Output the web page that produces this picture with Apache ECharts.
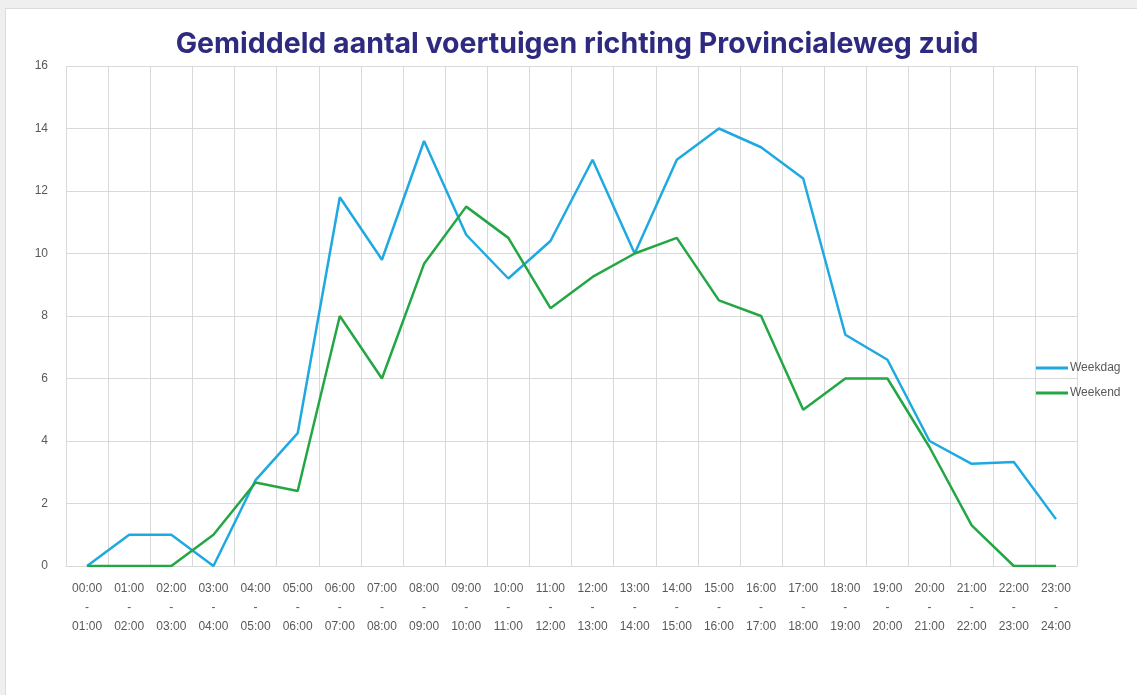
<!DOCTYPE html>
<html>
<head>
<meta charset="utf-8">
<script src="https://cdn.jsdelivr.net/npm/echarts@6/dist/echarts.min.js"></script>
<style>
html, body { margin: 0; padding: 0; background: #fff; }
#chart { width: 1137px; height: 695px; }
</style>
</head>
<body>
<div id="chart"></div>
<script>
// uren van de dag
var hours = ['00:00', '01:00', '02:00', '03:00', '04:00', '05:00', '06:00', '07:00',
	'08:00', '09:00', '10:00', '11:00', '12:00', '13:00', '14:00', '15:00',
	'16:00', '17:00', '18:00', '19:00', '20:00', '21:00', '22:00', '23:00', '24:00'];
var categories = [];
for (var i = 0; i < 24; i++) {
	categories.push(hours[i] + '\n-\n' + hours[i + 1]);
}

var weekdag = [0, 1, 1, 0, 2.75, 4.25, 11.8, 9.8, 13.6, 10.6, 9.2, 10.4,
	13, 10, 13, 14, 13.4, 12.4, 7.4, 6.6, 4, 3.27, 3.33, 1.5];
var weekend = [0, 0, 0, 1, 2.67, 2.4, 8, 6, 9.67, 11.5, 10.5, 8.25,
	9.25, 10, 10.5, 8.5, 8, 5, 6, 6, 3.8, 1.3, 0, 0];

var myChart = echarts.init(document.getElementById('chart'));
var option = {
	backgroundColor: '#fff',
	animation: false,
	title: {
		text: 'Gemiddeld aantal voertuigen richting Provincialeweg zuid',
		left: 572,
		textAlign: 'center',
		top: 25,
		textStyle: {
			color: '#2e2a80',
			fontSize: 28.5,
			fontWeight: 'bold',
			fontFamily: 'Inter'
		}
	},
	graphic: [
		{ type: 'rect', shape: { x: 0, y: 0, width: 1137, height: 8 }, style: { fill: '#efefef' }, silent: true },
		{ type: 'rect', shape: { x: 0, y: 0, width: 5, height: 695 }, style: { fill: '#efefef' }, silent: true },
		{ type: 'line', shape: { x1: 5, y1: 8.5, x2: 1137, y2: 8.5 }, style: { stroke: '#dcdcdc', lineWidth: 1 }, silent: true },
		{ type: 'line', shape: { x1: 5.5, y1: 8, x2: 5.5, y2: 695 }, style: { stroke: '#dcdcdc', lineWidth: 1 }, silent: true }
	],
	legend: {
		orient: 'vertical',
		left: 1036,
		top: 362,
		padding: 0,
		itemWidth: 32,
		itemHeight: 3,
		itemGap: 13,
		icon: 'rect',
		textStyle: { color: '#595959', fontSize: 12, padding: [0, 0, 0, -3] },
		data: ['Weekdag', 'Weekend']
	},
	grid: {
		left: 66,
		right: 60,
		top: 66,
		bottom: 129
	},
	xAxis: {
		type: 'category',
		data: categories,
		boundaryGap: true,
		axisLine: { lineStyle: { color: '#d9d9d9' } },
		axisTick: { show: false },
		splitLine: { show: true, lineStyle: { color: '#d9d9d9' } },
		axisLabel: {
			interval: 0,
			color: '#595959',
			fontSize: 12,
			lineHeight: 19,
			margin: 13
		}
	},
	yAxis: {
		type: 'value',
		min: 0,
		max: 16,
		interval: 2,
		axisLine: { show: false },
		axisTick: { show: false },
		splitLine: { lineStyle: { color: '#d9d9d9' } },
		axisLabel: { color: '#595959', fontSize: 12, margin: 18 }
	},
	series: [
		{
			name: 'Weekdag',
			type: 'line',
			data: weekdag,
			symbol: 'none',
			lineStyle: { color: '#1fa9e1', width: 2.5 },
			itemStyle: { color: '#1fa9e1' }
		},
		{
			name: 'Weekend',
			type: 'line',
			data: weekend,
			symbol: 'none',
			lineStyle: { color: '#23a745', width: 2.5 },
			itemStyle: { color: '#23a745' }
		}
	]
};
myChart.setOption(option);
</script>
</body>
</html>
